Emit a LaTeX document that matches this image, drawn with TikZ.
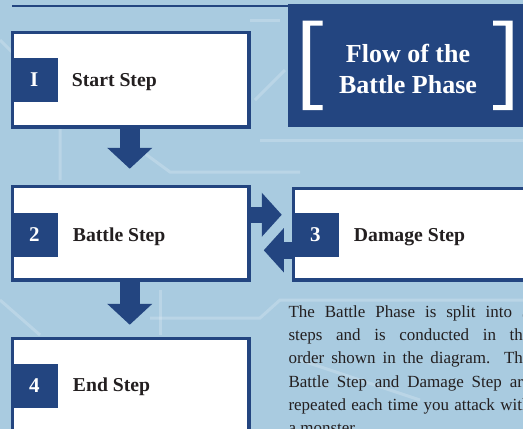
\documentclass[tikz,border=0pt]{standalone}
\usepackage{fontspec}
\setmainfont{Liberation Serif}
\usetikzlibrary{calc,arrows.meta}
\definecolor{dblue}{HTML}{234580}
\definecolor{bgblue}{HTML}{A9CBE0}
\definecolor{ink}{HTML}{231F20}
\begin{document}
\begin{tikzpicture}[x=1pt,y=-1pt,
  stepbox/.style={draw=dblue,line width=3.5pt,fill=white,anchor=north west,inner sep=0pt},
  tagbox/.style={fill=dblue,text=white,anchor=west,minimum width=47pt,minimum height=44pt,inner sep=0pt,outer sep=0pt,font=\fontsize{21}{24}\selectfont\bfseries},
  steplabel/.style={anchor=base west,inner sep=0pt,text=ink,font=\fontsize{19.7}{24}\selectfont\bfseries},
  titletext/.style={anchor=base,inner sep=0pt,text=white,font=\fontsize{26}{31}\selectfont\bfseries},
  paraline/.style={anchor=base west,inner sep=0pt,text=ink,font=\fontsize{17}{23.3}\selectfont},
  circuit/.style={draw=white,opacity=0.2,line width=3pt},
  downarrow/.style={draw=dblue,line width=19.5pt,-{Triangle[width=44pt,length=21pt]}},
  sidearrow/.style={draw=dblue,line width=16.5pt,-{Triangle[width=43pt,length=20pt]}}]
\useasboundingbox (0,0) rectangle (523,429);
\clip (0,0) rectangle (523,429);
\fill[bgblue] (0,0) rectangle (523,429);
% faint circuit pattern in the background
\draw[circuit] (0,40) -- (60,100) -- (60,180);
\draw[circuit] (140,150) -- (170,172) -- (300,172);
\draw[circuit] (260,140) -- (523,140);
\draw[circuit] (150,318) -- (260,318) -- (280,300) -- (523,300);
\draw[circuit] (160,290) -- (160,335);
\draw[circuit] (0,300) -- (40,335);
\draw[circuit] (300,360) -- (420,400);
\draw[circuit] (250,20) -- (280,20);
\draw[circuit] (255,100) -- (285,70);
% top rule and title panel
\draw[dblue,line width=2.5pt] (12,6) -- (290,6);
\node[fill=dblue,anchor=north west,minimum width=250pt,minimum height=123pt,inner sep=0pt,outer sep=0pt] (title) at (288,4) {};
\fill[white] (302.7,20.7) -- (322.7,20.7) -- (322.7,25.7) -- (310,25.7) -- (310,105) -- (322.7,105) -- (322.7,110) -- (302.7,110) -- cycle;
\fill[white] (512.7,20.7) -- (493,20.7) -- (493,25.7) -- (505.5,25.7) -- (505.5,105) -- (493,105) -- (493,110) -- (512.7,110) -- cycle;
\node[titletext] (ttl1) at (408,62) {Flow of the};
\node[titletext] (ttl2) at (408,93) {Battle Phase};
% step boxes
\node[stepbox,minimum width=236.5pt,minimum height=94.5pt] (b1) at (10.75,30.75) {};
\node[stepbox,minimum width=236.5pt,minimum height=93.5pt] (b2) at (10.75,184.75) {};
\node[stepbox,minimum width=260pt,minimum height=91.5pt] (b3) at (291.75,186.75) {};
\node[stepbox,minimum width=236.5pt,minimum height=94.5pt] (b4) at (10.75,336.75) {};
% number tags
\node[tagbox] (t1) at ([yshift=0pt]b1.west) {I};
\node[tagbox] (t2) at ([yshift=-1.5pt]b2.west) {2};
\node[tagbox] (t3) at ([yshift=-0.5pt]b3.west) {3};
\node[tagbox] (t4) at ([yshift=0pt]b4.west) {4};
% labels
\node[steplabel] (l1) at ($(t1.east)+(14,7)$) {Start Step};
\node[steplabel] (l2) at ($(t2.east)+(15,6.5)$) {Battle Step};
\node[steplabel] (l3) at ($(t3.east)+(15,7)$) {Damage Step};
\node[steplabel] (l4) at ($(t4.east)+(15,6)$) {End Step};
% block arrows
\draw[downarrow,shorten >=16pt] ([xshift=-1pt]b1.south) -- ([xshift=-1pt]b2.north);
\draw[downarrow,shorten >=12pt] ([xshift=-1pt]b2.south) -- ([xshift=-1pt]b2.south |- b4.north);
\draw[sidearrow,shorten >=10pt] ([yshift=18.5pt]b2.east) -- ([yshift=18.5pt]b2.east -| b3.west);
\draw[sidearrow,shorten >=13pt] ([yshift=-16pt]b3.west) -- ([yshift=-16pt]b3.west -| b2.east);
% paragraph, one node per printed line
\node[paraline] (p1) at (288.3,317.3) {\makebox[242pt][s]{The Battle Phase is split into 3}};
\node[paraline] (p2) at (288.3,340.6) {\makebox[242pt][s]{steps and is conducted in the}};
\node[paraline] (p3) at (288.3,363.9) {\makebox[242pt][s]{order shown in the diagram. The}};
\node[paraline] (p4) at (288.3,387.2) {\makebox[242pt][s]{Battle Step and Damage Step are}};
\node[paraline] (p5) at (288.3,410.5) {\makebox[242pt][s]{repeated each time you attack with}};
\node[paraline] (p6) at (288.3,433.8) {a monster.};
\end{tikzpicture}
\end{document}
